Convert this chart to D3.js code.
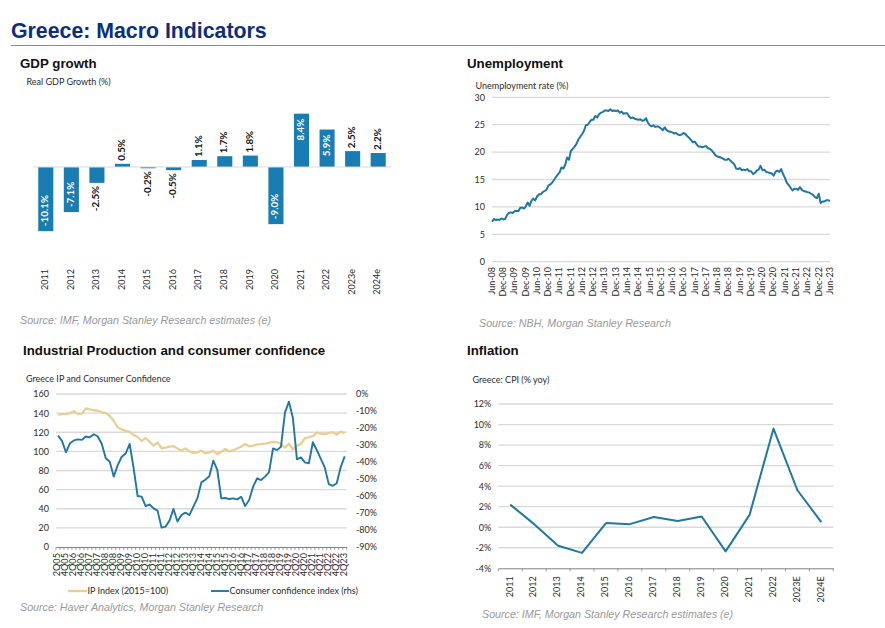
<!DOCTYPE html>
<html lang="en">
<head>
<meta charset="utf-8">
<title>Greece: Macro Indicators</title>
<script src="https://d3js.org/d3.v7.min.js"></script>
<style>
  body { margin: 0; background: #fff; }
  svg { display: block; }
  text { font-family: "Liberation Sans", Arial, sans-serif; }
  .small, .tick text { font-family: Lato, "Open Sans", sans-serif; font-size: 9px; fill: #2b2b2b; }
  .head { font-size: 13.3px; font-weight: bold; fill: #111; }
  .source { font-size: 10.7px; font-style: italic; fill: #999; }
</style>
</head>
<body>
<script>
// GDP growth
var gdpYears = ["2011","2012","2013","2014","2015","2016","2017","2018","2019","2020","2021","2022","2023e","2024e"];
var gdpValues = [-10.1,-7.1,-2.5,0.5,-0.2,-0.5,1.1,1.7,1.8,-9.0,8.4,5.9,2.5,2.2];

// unemployment, monthly Jun-08 to Jun-23
var unempLabels = ["Jun-08","Dec-08","Jun-09","Dec-09","Jun-10","Dec-10","Jun-11","Dec-11","Jun-12","Dec-12","Jun-13","Dec-13","Jun-14","Dec-14","Jun-15","Dec-15","Jun-16","Dec-16","Jun-17","Dec-17","Jun-18","Dec-18","Jun-19","Dec-19","Jun-20","Dec-20","Jun-21","Dec-21","Jun-22","Dec-22","Jun-23"];
var unempValues = [
  7.3,7.8,7.6,7.7,7.6,7.9, 7.7,7.8,8.5,8.9,9.0,8.9,
  9.2,9.3,9.2,9.8,9.9,9.7, 10.1,10.8,10.2,11.1,11.5,11.2,
  11.9,12.3,12.3,12.7,12.9,13.1, 13.9,14.1,14.4,14.9,15.4,15.9,
  16.3,17.2,17.0,17.7,19.0,18.6, 20.2,20.6,21.0,21.5,22.3,22.8,
  23.3,23.9,24.9,25.0,25.5,25.9, 25.9,26.6,26.3,26.9,27.2,27.3,
  27.6,27.6,27.5,27.8,27.5,27.6, 27.5,27.6,27.2,27.4,27.0,27.1,
  27.1,26.5,26.2,26.3,26.1,26.0, 25.9,26.0,25.7,25.8,26.2,25.4,
  24.9,24.7,24.9,24.6,24.7,24.6, 24.3,24.0,24.5,24.0,23.8,23.7,
  23.6,23.4,23.5,23.2,23.1,23.2, 23.5,23.3,22.9,22.6,22.2,21.8,
  21.9,21.4,21.0,21.0,20.9,21.0, 21.1,20.7,20.6,20.3,19.9,19.4,
  19.2,19.1,19.0,18.8,18.6,18.6, 18.8,18.4,18.1,17.8,17.0,16.9,
  17.1,16.7,16.8,16.7,16.9,16.5, 16.5,16.0,16.2,16.6,16.8,17.5,
  16.7,16.8,16.4,16.3,16.2,16.1, 15.7,16.4,16.6,16.4,16.9,16.0,
  15.3,14.4,14.0,13.5,13.0,13.3, 13.3,13.1,13.6,13.1,12.9,12.8,
  12.7,12.6,12.4,12.2,11.8,11.6, 12.4,10.7,11.0,11.0,11.2,11.2,
  11.1
];

// industrial production and confidence, quarterly 2Q05 to 2Q23
var quarterLabels = ["2Q05","4Q05","2Q06","4Q06","2Q07","4Q07","2Q08","4Q08","2Q09","4Q09","2Q10","4Q10","2Q11","4Q11","2Q12","4Q12","2Q13","4Q13","2Q14","4Q14","2Q15","4Q15","2Q16","4Q16","2Q17","4Q17","2Q18","4Q18","2Q19","4Q19","2Q20","4Q20","2Q21","4Q21","2Q22","4Q22","2Q23"];
var ipValues = [
  138.5,139,139,140,142,139,139.5,145,144,143,142.5,141,140,137,132,125,123,121.5,120.5,117,
  115,111,114,110,106,109.5,103.5,104,105,105.5,103,101,103,100,98.5,99,
  100.8,98,99,100.5,97,99.5,102.5,100,101,103,105,107.7,105.3,106,107.4,107.5,
  108,109,110,109.5,108,104,108,102,106,107.7,113.7,115,116,119.5,118.5,118,
  119,120,117.5,120.6,119
];
var ccValues = [
  -24.5,-27.6,-34.3,-29,-27.3,-26.7,-27,-25,-25.5,-23.7,-25,-29.4,-37.8,-39.8,-48.6,-41.8,-36.9,-35,-29.4,-43.7,
  -60,-60.4,-65.9,-65,-67.3,-68.6,-78.6,-78,-74.5,-67.6,-75,-71.2,-69.8,-71.2,-66.3,-61.4,
  -52,-50.4,-48.4,-39.2,-44.7,-61.4,-61.2,-61.8,-61.4,-62,-60.4,-65.9,-62.4,-54.5,-49.6,-50.6,
  -48.6,-46,-32,-33,-31,-10.8,-4.5,-14.3,-38.4,-37.3,-40.2,-40.8,-28.4,-33,-38.2,-43.3,
  -53,-54,-52.5,-43,-36.7
];

// inflation
var cpiYears = ["2011","2012","2013","2014","2015","2016","2017","2018","2019","2020","2021","2022","2023E","2024E"];
var cpiValues = [2.2,0.3,-1.8,-2.5,0.4,0.3,1.0,0.6,1.05,-2.35,1.2,9.6,3.6,0.5];

var blue = "#1f77a6", barBlue = "#187db3", sand = "#e8cf92", grid = "#d9d9d9", axisDark = "#808080";

var svg = d3.select("body").append("svg").attr("width", 885).attr("height", 628);

function addText(x, y, str, cls) {
  return svg.append("text").attr("x", x).attr("y", y).attr("class", cls).text(str);
}

function rotateLabels(sel, y) {
  sel.selectAll(".tick text")
    .attr("text-anchor", "end")
    .attr("dominant-baseline", "middle")
    .attr("dy", 0)
    .attr("x", 0).attr("y", 0)
    .attr("transform", "translate(0," + y + ") rotate(-90)");
}

function yGrid(scale, left, right, ticks) {
  svg.append("g").selectAll("line").data(ticks).join("line")
    .attr("x1", left).attr("x2", right)
    .attr("y1", function(d) { return scale(d); })
    .attr("y2", function(d) { return scale(d); })
    .attr("stroke", grid).attr("stroke-width", 1.3);
}

function yAxis(scale, x, ticks, fmt, right) {
  var axis = (right ? d3.axisRight(scale) : d3.axisLeft(scale)).tickValues(ticks).tickSize(0).tickPadding(right ? 0 : 7);
  if (fmt) axis.tickFormat(fmt);
  var g = svg.append("g").attr("transform", "translate(" + x + ",0)").call(axis);
  g.select(".domain").remove();
  return g;
}

// page title
addText(11, 37.5, "Greece: Macro Indicators").attr("font-size", 21.3).attr("font-weight", "bold").attr("fill", "#0b2f7c");
svg.append("line").attr("x1", 11).attr("x2", 885).attr("y1", 45.5).attr("y2", 45.5).attr("stroke", "#8c8c8c").attr("stroke-width", 1);

// ---- GDP growth
addText(20, 68, "GDP growth", "head");
addText(26.5, 85, "Real GDP Growth (%)", "small");
addText(20, 323.5, "Source: IMF, Morgan Stanley Research estimates (e)", "source");

var gdpX = d3.scaleBand().domain(gdpYears).range([33, 391]).paddingInner(0.41).paddingOuter(0.205);
var gdpY = d3.scaleLinear().domain([-10, 10]).range([230.5, 103.5]);

svg.append("g").selectAll("rect").data(gdpValues).join("rect")
  .attr("x", function(d, i) { return gdpX(gdpYears[i]); })
  .attr("width", gdpX.bandwidth())
  .attr("y", function(d) { return gdpY(Math.max(d, 0)); })
  .attr("height", function(d) { return Math.abs(gdpY(d) - gdpY(0)); })
  .attr("fill", barBlue);

svg.append("line").attr("x1", 33).attr("x2", 391).attr("y1", gdpY(0)).attr("y2", gdpY(0)).attr("stroke", grid).attr("stroke-width", 1);

svg.append("g").selectAll("text").data(gdpValues).join("text")
  .attr("class", "small")
  .attr("transform", function(d, i) {
    var inside = Math.abs(d) > 5;
    var y = gdpY(d) + (d < 0 ? 1 : -1) * (inside ? -5 : 3);
    return "translate(" + (gdpX(gdpYears[i]) + gdpX.bandwidth() / 2) + "," + y + ") rotate(-90)";
  })
  .attr("text-anchor", function(d) {
    var inside = Math.abs(d) > 5;
    if (d < 0) return inside ? "start" : "end";
    return inside ? "end" : "start";
  })
  .attr("dominant-baseline", "middle")
  .style("font-weight", "bold")
  .style("font-size", "9.8px")
  .style("fill", function(d) { return Math.abs(d) > 5 ? "#fff" : "#111"; })
  .text(function(d) { return d.toFixed(1) + "%"; });

var gdpAxis = svg.append("g").attr("transform", "translate(0,167)")
  .call(d3.axisBottom(gdpX).tickSize(0));
gdpAxis.select(".domain").remove();
rotateLabels(gdpAxis, 102);

// ---- Unemployment
addText(467, 68, "Unemployment", "head");
addText(475.5, 88.5, "Unemployment rate (%)", "small");
addText(479, 326.5, "Source: NBH, Morgan Stanley Research", "source");

var unempX = d3.scalePoint().domain(d3.range(unempValues.length)).range([492, 830]);
var unempY = d3.scaleLinear().domain([0, 30]).range([261.7, 97.3]);
var unempTicks = [0, 5, 10, 15, 20, 25, 30];

yGrid(unempY, 492, 830, unempTicks);
yAxis(unempY, 492, unempTicks);

var unempAxis = svg.append("g").attr("transform", "translate(0,262)")
  .call(d3.axisBottom(unempX)
    .tickValues(unempLabels.map(function(d, i) { return i * 6; }))
    .tickFormat(function(d) { return unempLabels[d / 6]; })
    .tickSize(0));
unempAxis.select(".domain").remove();
rotateLabels(unempAxis, 5);

svg.append("path").datum(unempValues)
  .attr("fill", "none").attr("stroke", blue).attr("stroke-width", 2).attr("stroke-linejoin", "round")
  .attr("d", d3.line().x(function(d, i) { return unempX(i); }).y(function(d) { return unempY(d); }));

// ---- Industrial production and consumer confidence
addText(23, 355, "Industrial Production and consumer confidence", "head");
addText(26, 382, "Greece IP and Consumer Confidence", "small");
addText(20, 611, "Source: Haver Analytics, Morgan Stanley Research", "source");

var ipX = d3.scaleBand().domain(d3.range(ipValues.length)).range([56, 346.7]);
var ipY = d3.scaleLinear().domain([0, 160]).range([547, 394]);
var ccY = d3.scaleLinear().domain([-90, 0]).range([547, 394]);
var ipTicks = [0, 20, 40, 60, 80, 100, 120, 140, 160];
var ccTicks = [0, -10, -20, -30, -40, -50, -60, -70, -80, -90];

yGrid(ipY, 56, 346.7, ipTicks.slice(1));
yAxis(ipY, 56, ipTicks);
yAxis(ccY, 356, ccTicks, function(d) { return d + "%"; }, true);

var ipAxis = svg.append("g").attr("transform", "translate(0,547)")
  .call(d3.axisBottom(ipX)
    .tickValues(quarterLabels.map(function(d, i) { return i * 2; }))
    .tickFormat(function(d) { return quarterLabels[d / 2]; })
    .tickSize(0));
ipAxis.select(".domain").attr("stroke", axisDark);
rotateLabels(ipAxis, 6);
ipAxis.selectAll(".tick text").style("font-size", "9.2px");

svg.append("g").selectAll("line").data(d3.range(ipValues.length + 1)).join("line")
  .attr("x1", function(d) { return 56 + d * ipX.step(); })
  .attr("x2", function(d) { return 56 + d * ipX.step(); })
  .attr("y1", 547).attr("y2", 550)
  .attr("stroke", axisDark).attr("stroke-width", 0.7);

var ipMid = function(d, i) { return ipX(i) + ipX.bandwidth() / 2; };
svg.append("path").datum(ipValues)
  .attr("fill", "none").attr("stroke", sand).attr("stroke-width", 2.3).attr("stroke-linejoin", "round")
  .attr("d", d3.line().x(ipMid).y(function(d) { return ipY(d); }));
svg.append("path").datum(ccValues)
  .attr("fill", "none").attr("stroke", blue).attr("stroke-width", 1.9).attr("stroke-linejoin", "round")
  .attr("d", d3.line().x(ipMid).y(function(d) { return ccY(d); }));

svg.append("line").attr("x1", 68).attr("x2", 87).attr("y1", 591).attr("y2", 591).attr("stroke", sand).attr("stroke-width", 2.3);
addText(87.5, 594, "IP Index (2015=100)", "small");
svg.append("line").attr("x1", 211).attr("x2", 229).attr("y1", 591).attr("y2", 591).attr("stroke", blue).attr("stroke-width", 1.9);
addText(229.5, 594, "Consumer confidence index (rhs)", "small");

// ---- Inflation
addText(467, 355, "Inflation", "head");
addText(472.5, 383, "Greece: CPI (% yoy)", "small");
addText(482, 618, "Source: IMF, Morgan Stanley Research estimates (e)", "source");

var cpiX = d3.scaleBand().domain(cpiYears).range([498.3, 833.3]);
var cpiY = d3.scaleLinear().domain([-4, 12]).range([568.3, 404]);
var cpiTicks = [-4, -2, 0, 2, 4, 6, 8, 10, 12];

yGrid(cpiY, 498.3, 833.3, cpiTicks.slice(1));
yAxis(cpiY, 498.3, cpiTicks, function(d) { return d + "%"; });

var cpiAxis = svg.append("g").attr("transform", "translate(0,568.3)")
  .call(d3.axisBottom(cpiX).tickSize(0));
cpiAxis.select(".domain").attr("stroke", axisDark);
rotateLabels(cpiAxis, 8);

svg.append("g").selectAll("line").data(d3.range(cpiYears.length + 1)).join("line")
  .attr("x1", function(d) { return 498.3 + d * cpiX.step(); })
  .attr("x2", function(d) { return 498.3 + d * cpiX.step(); })
  .attr("y1", 568.3).attr("y2", 571.5)
  .attr("stroke", axisDark).attr("stroke-width", 0.7);

svg.append("path").datum(cpiValues)
  .attr("fill", "none").attr("stroke", blue).attr("stroke-width", 2).attr("stroke-linejoin", "round")
  .attr("d", d3.line()
    .x(function(d, i) { return cpiX(cpiYears[i]) + cpiX.bandwidth() / 2; })
    .y(function(d) { return cpiY(d); }));
</script>
</body>
</html>
